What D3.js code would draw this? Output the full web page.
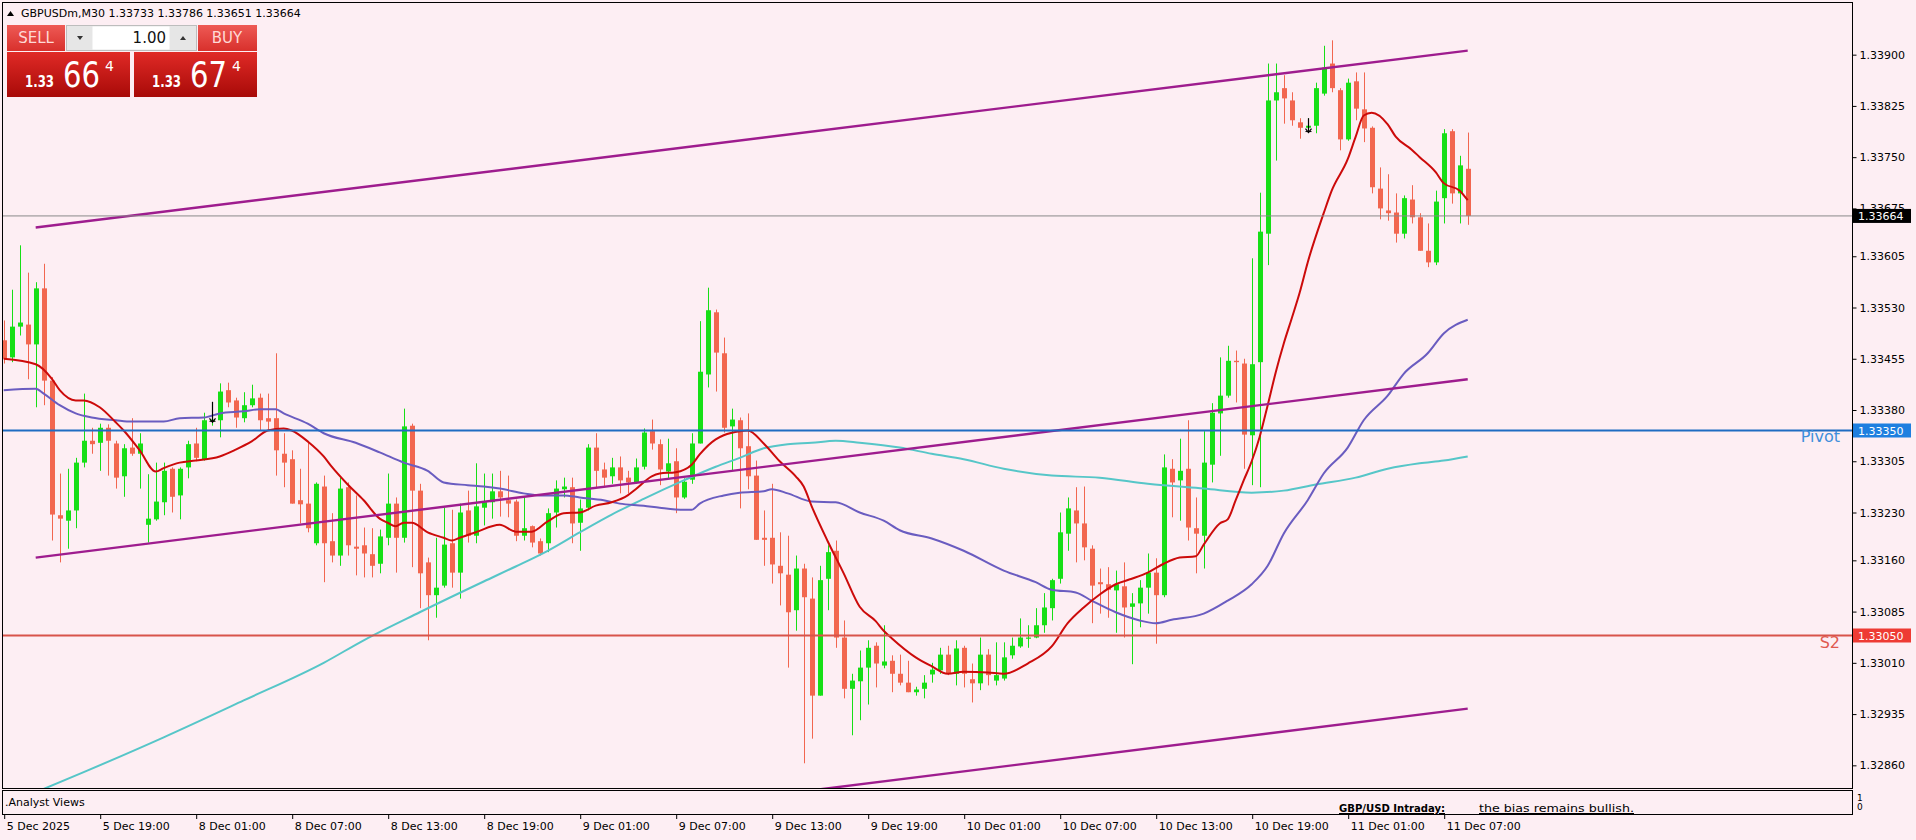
<!DOCTYPE html>
<html><head><meta charset="utf-8">
<script src="https://cdn.jsdelivr.net/npm/d3@7"></script>
<style>
body{margin:0;background:#FDEEF3;overflow:hidden}
svg{display:block}
text{font-family:"DejaVu Sans",sans-serif}
</style></head>
<body><svg id="c" width="1916" height="840"></svg>
<script>
// ---------------- DATA ----------------
const symbolTitle = "GBPUSDm,M30";
const lastOHLC = ["1.33733","1.33786","1.33651","1.33664"];
const opens = [
1.33482,1.33457,1.33502,1.33505,1.33476,1.33558,1.33423,1.33226,1.33218,1.33233,
1.33303,1.33335,1.33332,1.33354,1.33331,1.33283,1.33325,1.33316,1.33212,1.33220,
1.33245,1.33294,1.33255,1.33296,1.33331,1.33308,1.33365,1.33365,1.33409,1.33394,
1.33368,1.33387,1.33398,1.33368,1.33368,1.33316,1.33308,1.33248,1.33243,1.33185,
1.33268,1.33188,1.33167,1.33267,1.33180,1.33182,1.33169,1.33155,1.33193,1.33243,
1.33193,1.33357,1.33262,1.33157,1.33109,1.33123,1.33185,1.33142,1.33233,1.33196,
1.33237,1.33245,1.33261,1.33248,1.33246,1.33196,1.33210,1.33188,1.33185,1.33230,
1.33264,1.33267,1.33215,1.33237,1.33325,1.33293,1.33283,1.33296,1.33281,1.33274,
1.33297,1.33349,1.33330,1.33290,1.33305,1.33252,1.33278,1.33331,1.33432,1.33523,
1.33463,1.33356,1.33365,1.33327,1.33284,1.33193,1.33193,1.33152,1.33139,1.33087,
1.33148,1.33104,1.32962,1.33133,1.33174,1.33047,1.32972,1.32983,1.33003,1.33035,
1.33006,1.33013,1.32994,1.32981,1.32967,1.32972,1.32993,1.32999,1.33022,1.32994,
1.33032,1.32986,1.32980,1.33022,1.32984,1.32987,1.33021,1.33034,1.33046,1.33047,
1.33065,1.33090,1.33133,1.33199,1.33233,1.33214,1.33177,1.33128,1.33125,1.33116,
1.33122,1.33092,1.33097,1.33120,1.33142,1.33109,1.33294,1.33277,1.33294,1.33207,
1.33196,1.33300,1.33375,1.33401,1.33452,1.33448,1.33343,1.33450,1.33638,1.33833,
1.33851,1.33833,1.33801,1.33793,1.33796,1.33843,1.33887,1.33848,1.33776,1.33861,
1.33820,1.33793,1.33704,1.33672,1.33669,1.33638,1.33688,1.33662,1.33613,1.33596,
1.33690,1.33788,1.33697,1.33733];
const highs = [
1.33511,1.33556,1.33621,1.33581,1.33567,1.33594,1.33428,1.33287,1.33294,1.33310,
1.33404,1.33354,1.33360,1.33359,1.33335,1.33330,1.33368,1.33346,1.33286,1.33303,
1.33303,1.33296,1.33296,1.33335,1.33354,1.33376,1.33379,1.33419,1.33420,1.33398,
1.33406,1.33417,1.33404,1.33404,1.33463,1.33346,1.33321,1.33294,1.33335,1.33274,
1.33284,1.33229,1.33281,1.33274,1.33255,1.33208,1.33207,1.33205,1.33287,1.33252,
1.33382,1.33360,1.33272,1.33164,1.33193,1.33237,1.33234,1.33243,1.33262,1.33302,
1.33287,1.33287,1.33291,1.33284,1.33249,1.33253,1.33211,1.33192,1.33236,1.33277,
1.33281,1.33281,1.33249,1.33330,1.33346,1.33303,1.33310,1.33312,1.33291,1.33309,
1.33353,1.33366,1.33337,1.33338,1.33324,1.33280,1.33346,1.33510,1.33559,1.33527,
1.33486,1.33382,1.33369,1.33375,1.33306,1.33233,1.33272,1.33201,1.33196,1.33167,
1.33155,1.33135,1.33152,1.33182,1.33189,1.33072,1.32994,1.33028,1.33043,1.33040,
1.33065,1.33021,1.33022,1.33013,1.32975,1.32992,1.33010,1.33032,1.33035,1.33043,
1.33035,1.33009,1.33047,1.33030,1.33040,1.33040,1.33047,1.33075,1.33065,1.33090,
1.33112,1.33133,1.33230,1.33252,1.33267,1.33268,1.33182,1.33148,1.33150,1.33145,
1.33157,1.33112,1.33131,1.33170,1.33163,1.33315,1.33308,1.33338,1.33365,1.33252,
1.33349,1.33390,1.33457,1.33474,1.33467,1.33455,1.33602,1.33698,1.33887,1.33887,
1.33870,1.33845,1.33807,1.33807,1.33859,1.33913,1.33921,1.33851,1.33865,1.33874,
1.33874,1.33795,1.33735,1.33725,1.33697,1.33694,1.33709,1.33668,1.33653,1.33701,
1.33791,1.33791,1.33752,1.33786];
const lows = [
1.33448,1.33450,1.33489,1.33425,1.33384,1.33387,1.33189,1.33157,1.33177,1.33207,
1.33296,1.33316,1.33291,1.33284,1.33265,1.33253,1.33313,1.33265,1.33186,1.33218,
1.33226,1.33230,1.33220,1.33280,1.33305,1.33306,1.33357,1.33340,1.33384,1.33354,
1.33362,1.33384,1.33350,1.33350,1.33284,1.33267,1.33243,1.33214,1.33201,1.33182,
1.33128,1.33157,1.33152,1.33167,1.33138,1.33135,1.33135,1.33141,1.33182,1.33142,
1.33186,1.33150,1.33090,1.33043,1.33076,1.33120,1.33120,1.33104,1.33186,1.33185,
1.33211,1.33221,1.33224,1.33223,1.33188,1.33189,1.33179,1.33167,1.33172,1.33208,
1.33252,1.33185,1.33174,1.33233,1.33267,1.33267,1.33272,1.33258,1.33258,1.33272,
1.33293,1.33322,1.33270,1.33280,1.33229,1.33250,1.33272,1.33331,1.33413,1.33407,
1.33347,1.33291,1.33236,1.33264,1.33190,1.33152,1.33126,1.33094,1.33003,1.33057,
1.32863,1.32899,1.32962,1.33087,1.33032,1.32958,1.32904,1.32926,1.32949,1.32974,
1.33002,1.32967,1.32977,1.32967,1.32962,1.32958,1.32981,1.32994,1.32992,1.32977,
1.32974,1.32952,1.32970,1.32977,1.32977,1.32984,1.33016,1.33032,1.33032,1.33046,
1.33054,1.33072,1.33126,1.33174,1.33157,1.33160,1.33068,1.33082,1.33076,1.33054,
1.33047,1.33008,1.33062,1.33082,1.33038,1.33106,1.33223,1.33218,1.33189,1.33141,
1.33148,1.33274,1.33313,1.33398,1.33391,1.33294,1.33270,1.33267,1.33592,1.33745,
1.33799,1.33796,1.33777,1.33788,1.33785,1.33840,1.33845,1.33760,1.33774,1.33804,
1.33772,1.33697,1.33659,1.33657,1.33625,1.33631,1.33653,1.33613,1.33589,1.33592,
1.33653,1.33682,1.33653,1.33651];
const closes = [
1.33455,1.33502,1.33508,1.33476,1.33558,1.33423,1.33227,1.33221,1.33233,1.33303,
1.33335,1.33330,1.33354,1.33335,1.33281,1.33324,1.33316,1.33331,1.33221,1.33246,
1.33291,1.33253,1.33294,1.33330,1.33310,1.33365,1.33366,1.33407,1.33391,1.33369,
1.33387,1.33397,1.33365,1.33363,1.33321,1.33303,1.33243,1.33242,1.33207,1.33272,
1.33185,1.33167,1.33265,1.33182,1.33177,1.33170,1.33152,1.33195,1.33243,1.33193,
1.33356,1.33262,1.33141,1.33109,1.33120,1.33183,1.33142,1.33230,1.33196,1.33239,
1.33245,1.33261,1.33252,1.33243,1.33196,1.33207,1.33186,1.33170,1.33229,1.33265,
1.33268,1.33214,1.33236,1.33325,1.33291,1.33281,1.33296,1.33277,1.33274,1.33296,
1.33347,1.33331,1.33293,1.33302,1.33252,1.33275,1.33331,1.33436,1.33526,1.33464,
1.33354,1.33366,1.33324,1.33283,1.33190,1.33190,1.33154,1.33141,1.33084,1.33148,
1.33106,1.32962,1.33131,1.33172,1.33047,1.32972,1.32984,1.33003,1.33032,1.33009,
1.33012,1.32994,1.32981,1.32967,1.32971,1.32981,1.33000,1.33022,1.32994,1.33031,
1.32994,1.32980,1.33022,1.32992,1.32992,1.33018,1.33035,1.33047,1.33047,1.33065,
1.33091,1.33131,1.33201,1.33236,1.33214,1.33179,1.33123,1.33125,1.33117,1.33125,
1.33091,1.33097,1.33120,1.33142,1.33109,1.33296,1.33274,1.33291,1.33208,1.33199,
1.33303,1.33376,1.33401,1.33452,1.33450,1.33344,1.33447,1.33641,1.33833,1.33845,
1.33836,1.33804,1.33793,1.33796,1.33851,1.33881,1.33851,1.33776,1.33859,1.33821,
1.33792,1.33706,1.33675,1.33668,1.33638,1.33690,1.33662,1.33613,1.33596,1.33685,
1.33785,1.33697,1.33738,1.33664];

// moving averages: [bar index, price]
const maFast = [[0,1.33455],[4,1.33447],[6,1.33426],[7,1.33409],[9,1.33394],[10,1.33394],[12,1.33384],[14,1.33362],[15,1.33350],[17,1.33321],[19,1.33290],[20,1.33295],[22,1.33303],[24,1.33306],[27,1.33312],[29,1.33322],[31,1.33334],[33,1.33350],[35,1.33353],[36,1.33350],[38,1.33334],[40,1.33312],[41,1.33297],[43,1.33271],[45,1.33248],[47,1.33221],[48,1.33215],[49,1.33210],[50,1.33215],[51,1.33215],[53,1.33201],[55,1.33193],[56,1.33189],[57,1.33193],[59,1.33201],[62,1.33212],[64,1.33202],[66,1.33202],[68,1.33217],[70,1.33229],[72,1.33230],[74,1.33240],[76,1.33245],[78,1.33255],[79,1.33264],[81,1.33283],[82,1.33287],[84,1.33289],[86,1.33300],[87,1.33315],[89,1.33337],[90,1.33343],[92,1.33349],[93,1.33350],[95,1.33331],[97,1.33305],[99,1.33283],[100,1.33268],[101,1.33239],[103,1.33188],[105,1.33141],[107,1.33092],[109,1.33071],[110,1.33057],[111,1.33046],[114,1.33018],[116,1.33005],[118,1.32994],[120,1.32997],[123,1.32996],[125,1.32994],[128,1.33009],[131,1.33034],[133,1.33068],[135,1.33091],[137,1.33110],[139,1.33125],[141,1.33133],[143,1.33142],[145,1.33155],[147,1.33164],[149,1.33166],[150,1.33183],[152,1.33214],[153,1.33220],[154,1.33248],[155,1.33277],[156,1.33305],[157,1.33341],[158,1.33387],[159,1.33435],[160,1.33477],[161,1.33514],[162,1.33552],[163,1.33596],[165,1.33668],[166,1.33701],[168,1.33747],[169,1.33780],[170,1.33811],[171,1.33815],[173,1.33798],[174,1.33780],[176,1.33761],[177,1.33750],[179,1.33728],[180,1.33712],[182,1.33701],[183,1.33687]];
const maMid = [[0,1.33409],[4,1.33411],[5,1.33404],[7,1.33387],[9,1.33375],[11,1.33369],[14,1.33365],[16,1.33363],[20,1.33363],[22,1.33368],[25,1.33369],[27,1.33375],[30,1.33378],[32,1.33381],[34,1.33381],[35,1.33375],[38,1.33360],[40,1.33346],[44,1.33332],[47,1.33318],[50,1.33303],[53,1.33291],[55,1.33274],[58,1.33270],[60,1.33268],[62,1.33265],[65,1.33258],[67,1.33255],[70,1.33255],[72,1.33252],[75,1.33248],[77,1.33243],[80,1.33240],[82,1.33237],[85,1.33234],[86,1.33234],[87,1.33243],[90,1.33255],[92,1.33259],[95,1.33261],[96,1.33264],[98,1.33258],[101,1.33246],[104,1.33245],[107,1.33230],[110,1.33218],[112,1.33204],[116,1.33192],[120,1.33174],[125,1.33145],[129,1.33128],[131,1.33117],[134,1.33113],[136,1.33101],[139,1.33084],[142,1.33072],[144,1.33068],[146,1.33073],[150,1.33082],[153,1.33101],[156,1.33125],[158,1.33152],[160,1.33199],[163,1.33248],[165,1.33287],[168,1.33325],[170,1.33365],[173,1.33401],[175,1.33433],[178,1.33463],[180,1.33492],[183,1.33512]];
const maSlow = [[0,1.32801],[10,1.32850],[20,1.32901],[30,1.32955],[40,1.33010],[45,1.33043],[52,1.33084],[60,1.33129],[64,1.33151],[68,1.33174],[72,1.33201],[76,1.33227],[80,1.33250],[85,1.33277],[89,1.33297],[92,1.33310],[95,1.33324],[98,1.33330],[101,1.33332],[104,1.33335],[107,1.33332],[112,1.33325],[116,1.33316],[120,1.33308],[125,1.33294],[131,1.33284],[137,1.33281],[143,1.33272],[150,1.33265],[156,1.33259],[160,1.33262],[164,1.33271],[169,1.33281],[173,1.33294],[177,1.33302],[180,1.33306],[183,1.33312]];

// channel (start bar, end bar) and line prices
const channelBars = [4, 183];
const channelUpper = [1.33647, 1.33906];
const channelMiddle = [1.33164, 1.33425];
const channelLower = [1.32682, 1.32943];

const pivotLevel = 1.33350, s2Level = 1.33050, bidLevel = 1.33664;
const arrowBars = [26, 163];
const arrowTops = [1.33392, 1.33807];
const arrowBottoms = [1.33362, 1.33786];

const priceTicks = [1.33900,1.33825,1.33750,1.33675,1.33605,1.33530,1.33455,1.33380,1.33305,1.33230,1.33160,1.33085,1.33010,1.32935,1.32860];
const timeTickBars = [0,12,24,36,48,60,72,84,96,108,120,132,144,156,168,180];
const timeTickLabels = ["5 Dec 2025","5 Dec 19:00","8 Dec 01:00","8 Dec 07:00","8 Dec 13:00","8 Dec 19:00","9 Dec 01:00","9 Dec 07:00","9 Dec 13:00","9 Dec 19:00","10 Dec 01:00","10 Dec 07:00","10 Dec 13:00","10 Dec 19:00","11 Dec 01:00","11 Dec 07:00"];

// ---------------- DRAW ----------------
const svg = d3.select("#c");
const P = {l:2, t:2, r:1852, b:788};
const N = Math.min(opens.length, highs.length, lows.length, closes.length);
const x = d3.scaleLinear().domain([0, 183]).range([3.7, 1467.7]);
const y = d3.scaleLinear().domain([1.3305, 1.3335]).range([635.5, 430.5]);

svg.append("rect").attr("width",1916).attr("height",840).attr("fill","#FDEEF3");
const defs = svg.append("defs");
defs.append("clipPath").attr("id","plotclip").append("rect")
  .attr("x",P.l+1).attr("y",P.t+1).attr("width",P.r-P.l-1).attr("height",P.b-P.t-1);
const g1 = defs.append("linearGradient").attr("id","btnTop").attr("x1",0).attr("y1",0).attr("x2",0).attr("y2",1);
g1.append("stop").attr("offset","0%").attr("stop-color","#EE5A55");
g1.append("stop").attr("offset","100%").attr("stop-color","#D8302C");
const g2 = defs.append("linearGradient").attr("id","btnPrice").attr("x1",0).attr("y1",0).attr("x2",0).attr("y2",1);
g2.append("stop").attr("offset","0%").attr("stop-color","#E02A26");
g2.append("stop").attr("offset","100%").attr("stop-color","#A80A08");

const plot = svg.append("g").attr("clip-path","url(#plotclip)");

// candles
const bull = "#16DF16", bear = "#F2664F";
const bars = d3.range(N);
plot.append("g").selectAll("line").data(bars).join("line")
  .attr("x1", i=>Math.round(x(i))+0.5).attr("x2", i=>Math.round(x(i))+0.5)
  .attr("y1", i=>y(highs[i])).attr("y2", i=>y(lows[i]))
  .attr("stroke", i=>closes[i]>=opens[i]?bull:bear).attr("stroke-width",1);
plot.append("g").selectAll("rect").data(bars).join("rect")
  .attr("x", i=>Math.round(x(i))-2).attr("width",5)
  .attr("y", i=>y(Math.max(opens[i],closes[i])))
  .attr("height", i=>Math.max(1.2, Math.abs(y(opens[i])-y(closes[i]))))
  .attr("fill", i=>closes[i]>=opens[i]?bull:bear);

// moving averages
const maLine = d3.line().x(d=>x(d[0])).y(d=>y(d[1])).curve(d3.curveMonotoneX);
plot.append("path").attr("d",maLine(maSlow)).attr("fill","none").attr("stroke","#56C6C8").attr("stroke-width",2);
plot.append("path").attr("d",maLine(maMid)).attr("fill","none").attr("stroke","#6A5CC0").attr("stroke-width",2);
plot.append("path").attr("d",maLine(maFast)).attr("fill","none").attr("stroke","#CC0A0A").attr("stroke-width",2);

// channel
const segLine = d3.line().x(d=>x(d[0])).y(d=>y(d[1]));
[channelUpper, channelMiddle, channelLower].forEach(c=>{
  plot.append("path").attr("d", segLine([[channelBars[0],c[0]],[channelBars[1],c[1]]]))
    .attr("fill","none").attr("stroke","#9E1C8E").attr("stroke-width",2.4);
});

// horizontal levels
plot.append("line").attr("x1",P.l).attr("x2",P.r).attr("y1",y(bidLevel)).attr("y2",y(bidLevel))
  .attr("stroke","#8A8A8A").attr("stroke-width",1);
plot.append("line").attr("x1",P.l).attr("x2",P.r).attr("y1",y(pivotLevel)).attr("y2",y(pivotLevel))
  .attr("stroke","#1F6CC2").attr("stroke-width",2);
plot.append("line").attr("x1",P.l).attr("x2",P.r).attr("y1",y(s2Level)).attr("y2",y(s2Level))
  .attr("stroke","#D8534A").attr("stroke-width",2);

// arrows
arrowBars.forEach((b,k)=>{
  const ax = Math.round(x(b))+0.5, yt=y(arrowTops[k]), yb=y(arrowBottoms[k]);
  plot.append("line").attr("x1",ax).attr("x2",ax).attr("y1",yt).attr("y2",yb).attr("stroke","#000").attr("stroke-width",1.2);
  plot.append("path").attr("d",`M${ax-3},${yb-4}L${ax},${yb}L${ax+3},${yb-4}`).attr("fill","none").attr("stroke","#000").attr("stroke-width",1.2);
  plot.append("line").attr("x1",ax-3).attr("x2",ax+3).attr("y1",yb-1).attr("y2",yb-1).attr("stroke","#000");
});

// level texts
svg.append("text").attr("x",1840).attr("y",y(pivotLevel)+11).attr("text-anchor","end")
  .attr("font-size",16).attr("fill","#3F8EDB").text("Pivot");
svg.append("text").attr("x",1840).attr("y",y(s2Level)+12).attr("text-anchor","end")
  .attr("font-size",16).attr("fill","#E05A50").text("S2");

// frame
svg.append("rect").attr("x",P.l+0.5).attr("y",P.t+0.5).attr("width",P.r-P.l).attr("height",P.b-P.t)
  .attr("fill","none").attr("stroke","#000").attr("stroke-width",1);

// price axis
const yAxis = d3.axisRight(y).tickValues(priceTicks).tickFormat(d3.format(".5f"))
  .tickSizeInner(4).tickSizeOuter(0).tickPadding(3);
const ya = svg.append("g").attr("transform",`translate(${P.r+0.5},0)`).call(yAxis);
ya.select(".domain").remove();
ya.selectAll("text").attr("font-size",11).attr("font-family","DejaVu Sans").attr("fill","#000");
ya.selectAll("line").attr("stroke","#000");

// price tags
[[pivotLevel,"#1E7FE0"],[s2Level,"#EE3B34"],[bidLevel,"#000000"]].forEach(([v,c])=>{
  svg.append("rect").attr("x",P.r+1).attr("y",y(v)-7).attr("width",58).attr("height",14).attr("fill",c);
  svg.append("text").attr("x",P.r+6).attr("y",y(v)+4.5).attr("font-size",11).attr("fill","#fff")
    .text(d3.format(".5f")(v));
});

// indicator sub-window
svg.append("rect").attr("x",2.5).attr("y",790.5).attr("width",1850).attr("height",24)
  .attr("fill","#FDEEF3").attr("stroke","#000");
svg.append("text").attr("x",5).attr("y",806).attr("font-size",11).text(".Analyst Views");
svg.append("text").attr("x",1339).attr("y",812).attr("font-size",11).attr("font-weight","bold")
  .attr("text-decoration","underline").attr("textLength",106).attr("lengthAdjust","spacingAndGlyphs").text("GBP/USD Intraday:");
svg.append("text").attr("x",1479).attr("y",812).attr("font-size",11)
  .attr("text-decoration","underline").attr("textLength",155).attr("lengthAdjust","spacingAndGlyphs").text("the bias remains bullish.");
svg.append("text").attr("x",1857).attr("y",801).attr("font-size",9).text("1");
svg.append("text").attr("x",1857).attr("y",810).attr("font-size",9).text("0");

// time axis
const xAxis = d3.axisBottom(x).tickValues(timeTickBars).tickFormat((d,k)=>timeTickLabels[k])
  .tickSizeInner(4).tickSizeOuter(0).tickPadding(3);
const xa = svg.append("g").attr("transform","translate(0.5,815)").call(xAxis);
xa.select(".domain").remove();
xa.selectAll("text").attr("text-anchor","start").attr("dx",2).attr("font-size",11)
  .attr("font-family","DejaVu Sans").attr("fill","#000");
xa.selectAll("line").attr("stroke","#000");

// header
svg.append("path").attr("d","M7,16L10.5,11L14,16Z").attr("fill","#000");
svg.append("text").attr("x",21).attr("y",17).attr("font-size",11)
  .text(symbolTitle + "  " + lastOHLC.join(" "));

// one-click trading panel
const tp = svg.append("g");
tp.append("rect").attr("x",7).attr("y",25).attr("width",58).attr("height",26).attr("fill","url(#btnTop)");
tp.append("text").attr("x",36).attr("y",43).attr("text-anchor","middle").attr("font-family","Liberation Sans")
  .attr("font-size",15).attr("fill","#FFD9D6").text("SELL");
tp.append("rect").attr("x",66.5).attr("y",25.5).attr("width",130).attr("height",25).attr("fill","#E6E6E6").attr("stroke","#BDBDBD");
tp.append("rect").attr("x",92.5).attr("y",26.5).attr("width",77).attr("height",23).attr("fill","#FFFFFF");
tp.append("path").attr("d","M77,36L83,36L80,40Z").attr("fill","#333");
tp.append("path").attr("d","M180,40L186,40L183,36Z").attr("fill","#333");
tp.append("text").attr("x",166).attr("y",43).attr("text-anchor","end").attr("font-family","Liberation Sans")
  .attr("font-size",15).attr("fill","#111").text("1.00");
tp.append("rect").attr("x",198).attr("y",25).attr("width",59).attr("height",26).attr("fill","url(#btnTop)");
tp.append("text").attr("x",227).attr("y",43).attr("text-anchor","middle").attr("font-family","Liberation Sans")
  .attr("font-size",15).attr("fill","#FFD9D6").text("BUY");
[[7,"66"],[134,"67"]].forEach(([bx,big])=>{
  tp.append("rect").attr("x",bx).attr("y",52).attr("width",123).attr("height",45).attr("fill","url(#btnPrice)");
  tp.append("text").attr("x",bx+18).attr("y",87).attr("font-family","Liberation Sans").attr("font-weight","bold")
    .attr("font-size",15).attr("textLength",29).attr("lengthAdjust","spacingAndGlyphs").attr("fill","#fff").text("1.33");
  tp.append("text").attr("x",bx+56).attr("y",87).attr("font-family","Liberation Sans")
    .attr("font-size",36).attr("textLength",37).attr("lengthAdjust","spacingAndGlyphs").attr("fill","#fff").text(big);
  tp.append("text").attr("x",bx+98).attr("y",71).attr("font-family","Liberation Sans")
    .attr("font-size",14).attr("fill","#fff").text("4");
});
</script></body></html>
